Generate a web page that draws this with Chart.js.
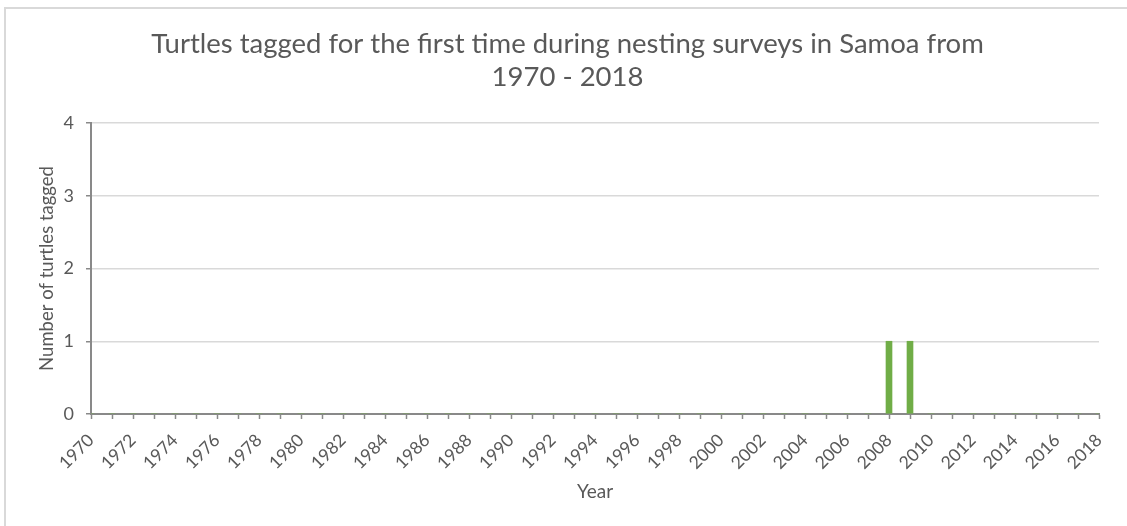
<!DOCTYPE html>
<html>
<head>
<meta charset="utf-8">
<script src="https://cdn.jsdelivr.net/npm/chart.js@4/dist/chart.umd.min.js"></script>
<style>
  html, body { margin: 0; padding: 0; background: #ffffff; }
  #wrap { position: relative; width: 1127px; height: 526px; overflow: hidden; }
  #frame { position: absolute; left: 4px; top: 7px; right: -4px; bottom: -4px;
           border-top: 2px solid #d9d9d9; border-left: 2px solid #d9d9d9; }
  canvas { position: absolute; left: 0; top: 0; }
</style>
</head>
<body>
<div id="wrap">
  <div id="frame"></div>
  <canvas id="c" width="1127" height="526"></canvas>
</div>
<script>
// Survey years on the category axis
const years = [
  '1970','1971','1972','1973','1974','1975','1976','1977','1978','1979',
  '1980','1981','1982','1983','1984','1985','1986','1987','1988','1989',
  '1990','1991','1992','1993','1994','1995','1996','1997','1998','1999',
  '2000','2001','2002','2003','2004','2005','2006','2007','2008','2009',
  '2010','2011','2012','2013','2014','2015','2016','2017','2018'
];
// Turtles tagged for the first time in each year
const tagged = [
  0,0,0,0,0,0,0,0,0,0,
  0,0,0,0,0,0,0,0,0,0,
  0,0,0,0,0,0,0,0,0,0,
  0,0,0,0,0,0,0,0,1,1,
  0,0,0,0,0,0,0,0,0
];
const yTicks = [0, 1, 2, 3, 4];
const titleLines = ['Turtles tagged for the first time during nesting surveys in Samoa from', '1970 - 2018'];

const textGrey = '#595959';
const axisGrey = '#898989';
const font = 'Lato, "Liberation Sans", sans-serif';

new Chart(document.getElementById('c'), {
  type: 'bar',
  data: {
    labels: years,
    datasets: [{
      label: 'Turtles tagged',
      data: tagged,
      backgroundColor: '#70ad47',
      borderWidth: 0,
      barThickness: 6
    }]
  },
  options: {
    responsive: false,
    animation: false,
    devicePixelRatio: 1,
    layout: { padding: { left: 36, right: 28, top: 8, bottom: 8 } },
    plugins: {
      legend: { display: false },
      tooltip: { enabled: false },
      title: {
        display: true,
        text: titleLines,
        color: textGrey,
        font: { family: font, size: 27.5, weight: 'normal', lineHeight: 1.2 },
        padding: { top: 20, bottom: 29 }
      }
    },
    scales: {
      x: {
        type: 'category',
        offset: false,
        grid: {
          display: true,
          drawOnChartArea: false,
          drawTicks: true,
          tickLength: 5,
          tickColor: axisGrey,
          tickWidth: 1.5,
          offset: false
        },
        border: { display: true, color: axisGrey, width: 2 },
        ticks: {
          autoSkip: false,
          maxRotation: 45,
          minRotation: 45,
          padding: 11,
          color: textGrey,
          font: { family: font, size: 17.5 },
          callback: function (value, index) {
            return index % 2 === 0 ? this.getLabelForValue(value) : '';
          }
        },
        title: {
          display: true,
          text: 'Year',
          color: textGrey,
          font: { family: font, size: 19 },
          padding: { top: 4, bottom: 15 }
        },
        afterFit: (scale) => { scale.height = 104; }
      },
      y: {
        min: 0,
        max: 4,
        afterBuildTicks: (scale) => { scale.ticks = yTicks.map(v => ({ value: v })); },
        grid: {
          color: '#d9d9d9',
          lineWidth: 1.5,
          drawTicks: true,
          tickLength: 5,
          tickColor: axisGrey
        },
        border: { display: true, color: axisGrey, width: 2 },
        ticks: {
          color: textGrey,
          padding: 12,
          font: { family: font, size: 18 }
        },
        title: {
          display: true,
          text: 'Number of turtles tagged',
          color: textGrey,
          font: { family: font, size: 18.5 },
          padding: { top: 0, bottom: 0 }
        },
        afterFit: (scale) => { scale.width = 55; }
      }
    }
  }
});
</script>
</body>
</html>
